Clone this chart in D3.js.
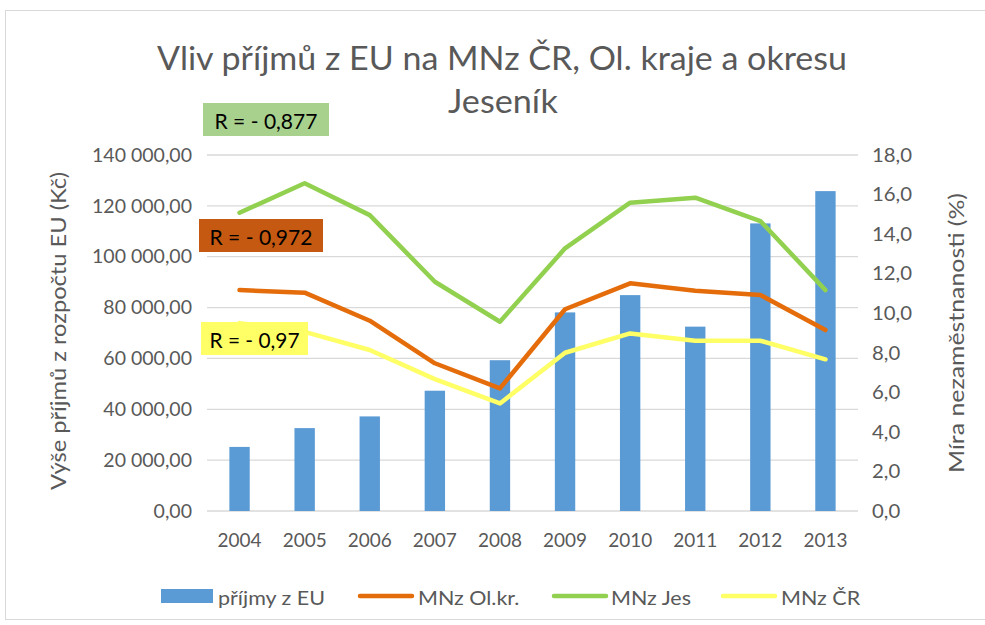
<!DOCTYPE html>
<html><head><meta charset="utf-8">
<script src="https://cdn.jsdelivr.net/npm/d3@7"></script>
<style>body{margin:0;background:#fff;} svg{display:block;} text{font-family:Lato,"Open Sans",sans-serif;}</style>
</head><body>
<svg id="c" width="985" height="625"></svg>
<script>
const years = ["2004","2005","2006","2007","2008","2009","2010","2011","2012","2013"];
const prijmyEU = [25200, 32600, 37200, 47300, 59300, 78100, 84900, 72500, 113100, 125800];
const mnzOlkr = [11.17, 11.04, 9.62, 7.47, 6.20, 10.2, 11.51, 11.14, 10.92, 9.15];
const mnzJes = [15.08, 16.57, 14.96, 11.59, 9.57, 13.28, 15.59, 15.84, 14.66, 11.17];
const mnzCR = [9.5, 9.06, 8.14, 6.67, 5.44, 8.0, 8.98, 8.61, 8.61, 7.67];
const leftTicks = [0, 20000, 40000, 60000, 80000, 100000, 120000, 140000];
const rightTicks = [0, 2, 4, 6, 8, 10, 12, 14, 16, 18];
const seriesNames = ["příjmy z EU", "MNz Ol.kr.", "MNz Jes", "MNz ČR"];
const rLabels = ["R = - 0,877", "R = - 0,972", "R = - 0,97"];
const titleLines = ["Vliv příjmů z EU na MNz ČR, Ol. kraje a okresu", "Jeseník"];

const grey = "#595959";
const colors = {bar:"#5b9bd5", orange:"#e46c0a", green:"#92d050", yellow:"#ffff66"};
const svg = d3.select("#c");

function squeeze(sel, fs, refNode, target){
  sel.attr("font-size", fs);
  const ratio = target / refNode.getComputedTextLength();
  sel.each(function(){
    const w = this.getComputedTextLength();
    d3.select(this).attr("textLength", w*ratio).attr("lengthAdjust","spacingAndGlyphs");
  });
}

svg.append("rect").attr("x",5.5).attr("y",10.5).attr("width",990).attr("height",609)
  .attr("fill","#fff").attr("stroke","#d9d9d9").attr("stroke-width",1);

const L = 207, R = 858, T = 155, B = 511;
const x = d3.scaleBand().domain(years).range([L, R]).padding(0);
const yL = d3.scaleLinear().domain([0, 140000]).range([B, T]);
const yR = d3.scaleLinear().domain([0, 18]).range([B, T]);

svg.append("g").selectAll("line").data(leftTicks).join("line")
  .attr("x1", L).attr("x2", R).attr("y1", d=>yL(d)).attr("y2", d=>yL(d))
  .attr("stroke", "#d9d9d9").attr("stroke-width", 1.3);

const bw = x.step()*0.313;
svg.append("g").selectAll("rect").data(years).join("rect")
  .attr("x", d=>x(d)+x.bandwidth()/2-bw/2).attr("width", bw)
  .attr("y", (d,i)=>yL(prijmyEU[i])).attr("height", (d,i)=>B-yL(prijmyEU[i]))
  .attr("fill", colors.bar);

const line = d3.line().x((d,i)=>x(years[i])+x.bandwidth()/2).y(d=>yR(d));
[[mnzJes, colors.green],[mnzOlkr, colors.orange],[mnzCR, colors.yellow]].forEach(([data,c])=>{
  svg.append("path").datum(data).attr("d", line).attr("fill","none")
    .attr("stroke", c).attr("stroke-width", 4.5).attr("stroke-linecap","round").attr("stroke-linejoin","round");
});

const fmtL = d => d3.format(",.2f")(d).replace(/,/g," ").replace(".",",");
const fmtR = d => d3.format(".1f")(d).replace(".",",");
const axL = svg.append("g").attr("transform",`translate(${L},0)`)
  .call(d3.axisLeft(yL).tickValues(leftTicks).tickFormat(fmtL).tickSize(0).tickPadding(15));
const axR = svg.append("g").attr("transform",`translate(${R},0)`)
  .call(d3.axisRight(yR).tickValues(rightTicks).tickFormat(fmtR).tickSize(0).tickPadding(14));
const axB = svg.append("g").attr("transform",`translate(0,${B})`)
  .call(d3.axisBottom(x).tickSize(0).tickPadding(22));
[axL, axR, axB].forEach(a=>{
  a.select(".domain").remove();
  a.selectAll("text").attr("fill", grey).attr("font-family","Lato");
});
squeeze(axL.selectAll("text"), 19.5, axL.selectAll("text").filter(d=>d===140000).node(), 100);
squeeze(axR.selectAll("text"), 19.5, axR.selectAll("text").filter(d=>d===18).node(), 40);
squeeze(axB.selectAll("text"), 19.5, axB.selectAll("text").filter(d=>d==="2004").node(), 44);

const tl1 = svg.append("text").attr("x", 502).attr("y", 57).attr("text-anchor","middle")
  .attr("dominant-baseline","central").attr("fill", grey).text(titleLines[0]);
squeeze(tl1, 32, tl1.node(), 690);
const tl2 = svg.append("text").attr("x", 503).attr("y", 100).attr("text-anchor","middle")
  .attr("dominant-baseline","central").attr("fill", grey).text(titleLines[1]);
squeeze(tl2, 32, tl2.node(), 110);

const at1 = svg.append("text").attr("transform","translate(57,331) rotate(-90)").attr("text-anchor","middle")
  .attr("dominant-baseline","central").attr("fill", grey).text("Výše příjmů z rozpočtu EU (Kč)");
squeeze(at1, 21, at1.node(), 318);
const at2 = svg.append("text").attr("transform","translate(955,333) rotate(-90)").attr("text-anchor","middle")
  .attr("dominant-baseline","central").attr("fill", grey).text("Míra nezaměstnanosti (%)");
squeeze(at2, 21, at2.node(), 280);

const boxes = [
  {x:203, y:103, w:126, h:33, fill:"#a9d18e"},
  {x:199, y:219, w:124, h:33, fill:"#c65911"},
  {x:201, y:322, w:107, h:33, fill:"#ffff66"}
];
const rw = [103, 103, 90];
boxes.forEach((b,i)=>{
  svg.append("rect").attr("x",b.x).attr("y",b.y).attr("width",b.w).attr("height",b.h).attr("fill",b.fill);
  const t = svg.append("text").attr("x", b.x+b.w/2).attr("y", b.y+b.h/2+1).attr("text-anchor","middle")
    .attr("dominant-baseline","central").attr("fill","#000").text(rLabels[i]);
  squeeze(t, 20.5, t.node(), rw[i]);
});

const lg = svg.append("g");
const legendItems = [
  {type:"rect", c:colors.bar, sx:161, tx:218},
  {type:"line", c:colors.orange, sx:358, tx:418},
  {type:"line", c:colors.green, sx:552, tx:611},
  {type:"line", c:colors.yellow, sx:721, tx:781}
];
legendItems.forEach((it,i)=>{
  if(it.type==="rect"){
    lg.append("rect").attr("x",it.sx).attr("y",589).attr("width",52).attr("height",14).attr("fill",it.c);
  } else {
    lg.append("line").attr("x1",it.sx+2).attr("x2",it.sx+54).attr("y1",596).attr("y2",596)
      .attr("stroke",it.c).attr("stroke-width",4.5).attr("stroke-linecap","round");
  }
  lg.append("text").attr("class","lt").attr("x",it.tx).attr("y",597).attr("dominant-baseline","central")
    .attr("fill",grey).text(seriesNames[i]);
});
const lts = lg.selectAll("text.lt");
squeeze(lts, 19.5, lts.node(), 107);
</script>
</body></html>
